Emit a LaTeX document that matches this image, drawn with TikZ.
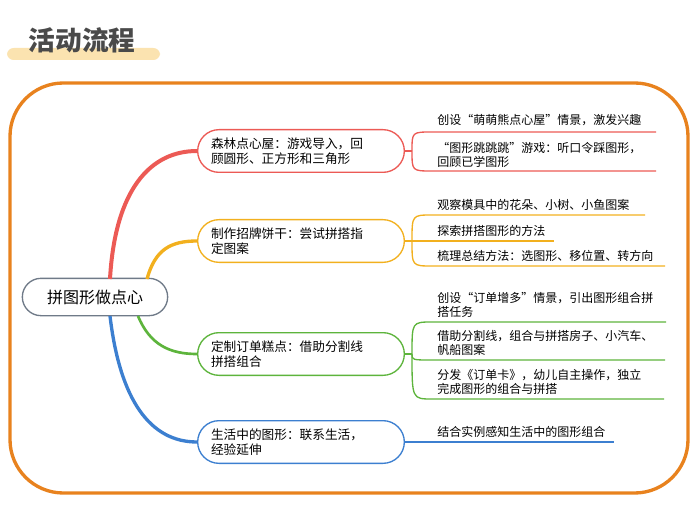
\documentclass[tikz,border=0pt]{standalone}
\usepackage{fontspec}
\newfontfamily\cjk{Noto Sans CJK SC}
\definecolor{frameorange}{HTML}{E8821E}
\definecolor{barcream}{HTML}{FBE3B0}
\definecolor{titlegray}{HTML}{4A4A4A}
\definecolor{rootgray}{HTML}{6F7A88}
\definecolor{bred}{HTML}{EC5A55}
\definecolor{byellow}{HTML}{F2B01E}
\definecolor{bgreen}{HTML}{5DB43C}
\definecolor{bblue}{HTML}{3C7FD0}
\tikzset{
  topic/.style={draw=#1, line width=1pt, rounded corners=16pt, fill=white,
    minimum width=155pt, minimum height=32pt, align=left, text width=135pt,
    font=\cjk\fontsize{9.5}{11}\selectfont},
  leaf/.style={anchor=west, align=left, font=\cjk\fontsize{9}{11}\selectfont, inner sep=0pt}
}
\begin{document}
\begin{tikzpicture}[x=0.75pt, y=-0.75pt]
\useasboundingbox (0,0) rectangle (700,524);
% title
\fill[barcream, rounded corners=5pt] (7,48) rectangle (160,60);
\node (title) [anchor=west, font=\cjk\bfseries\fontsize{20}{22}\selectfont, text=titlegray] at (24,40) {活动流程};
% frame
\draw[frameorange, line width=2.5pt, rounded corners=40pt] (10,83) rectangle (688,493);

\node (root) [draw=rootgray, line width=1pt, rounded corners=14pt, minimum width=109pt, minimum height=28pt,
  font=\cjk\fontsize{12}{14}\selectfont] at (95,297) {拼图形做点心};

\node (forest) [topic=bred] at (301,151) {森林点心屋：游戏导入，回\\顾圆形、正方形和三角形};
\node (biscuit) [topic=byellow] at (301,241) {制作招牌饼干：尝试拼搭指\\定图案};
\node (order) [topic=bgreen] at (301,354) {定制订单糕点：借助分割线\\拼搭组合};
\node (life) [topic=bblue] at (301,442) {生活中的图形：联系生活，\\经验延伸};

% limbs
\draw[bred, line width=3pt] (110,279) .. controls (115,190) and (150,151) .. (forest.west);
\draw[byellow, line width=2.5pt] (147,279) .. controls (155,250) and (170,241) .. (biscuit.west);
\draw[bgreen, line width=2pt] (138,316) .. controls (150,345) and (170,354) .. (order.west);
\draw[bblue, line width=2.5pt] (110,316) .. controls (120,400) and (150,442) .. (life.west);

% leaves
\node (f1) [leaf] at (437,120) {创设“萌萌熊点心屋”情景，激发兴趣};
\node (f2) [leaf] at (437,155) {“图形跳跳跳”游戏：听口令踩图形，\\回顾已学图形};
\node (b1) [leaf] at (437,205) {观察模具中的花朵、小树、小鱼图案};
\node (b2) [leaf] at (437,231) {探索拼搭图形的方法};
\node (b3) [leaf] at (437,256) {梳理总结方法：选图形、移位置、转方向};
\node (o1) [leaf] at (437,305) {创设“订单增多”情景，引出图形组合拼\\搭任务};
\node (o2) [leaf] at (437,343) {借助分割线，组合与拼搭房子、小汽车、\\帆船图案};
\node (o3) [leaf] at (437,382) {分发《订单卡》，幼儿自主操作，独立\\完成图形的组合与拼搭};
\node (l1) [leaf] at (437,432) {结合实例感知生活中的图形组合};

\coordinate (fe1) at (656,132); \coordinate (fe2) at (656,171);
\coordinate (be1) at (645,215); \coordinate (be2) at (554,241); \coordinate (be3) at (665,266);
\coordinate (oe1) at (666,322); \coordinate (oe2) at (665,360); \coordinate (oe3) at (664,399);
\coordinate (le1) at (614,442);
\coordinate (curveend) at (432,0);

\foreach \topicnode/\col/\ends in {forest/bred/{fe1,fe2}, biscuit/byellow/{be1,be2,be3}, order/bgreen/{oe1,oe2,oe3}}{
  \draw[\col, line width=1pt] (\topicnode.east) -- ++(7,0) coordinate (hub);
  \foreach \e in \ends {
    \draw[\col, line width=1pt] (hub) .. controls (hub |- \e) .. (\e -| curveend) -- (\e);
  }
}
\draw[bblue, line width=1pt] (life.east) -- (le1);
\end{tikzpicture}
\end{document}
